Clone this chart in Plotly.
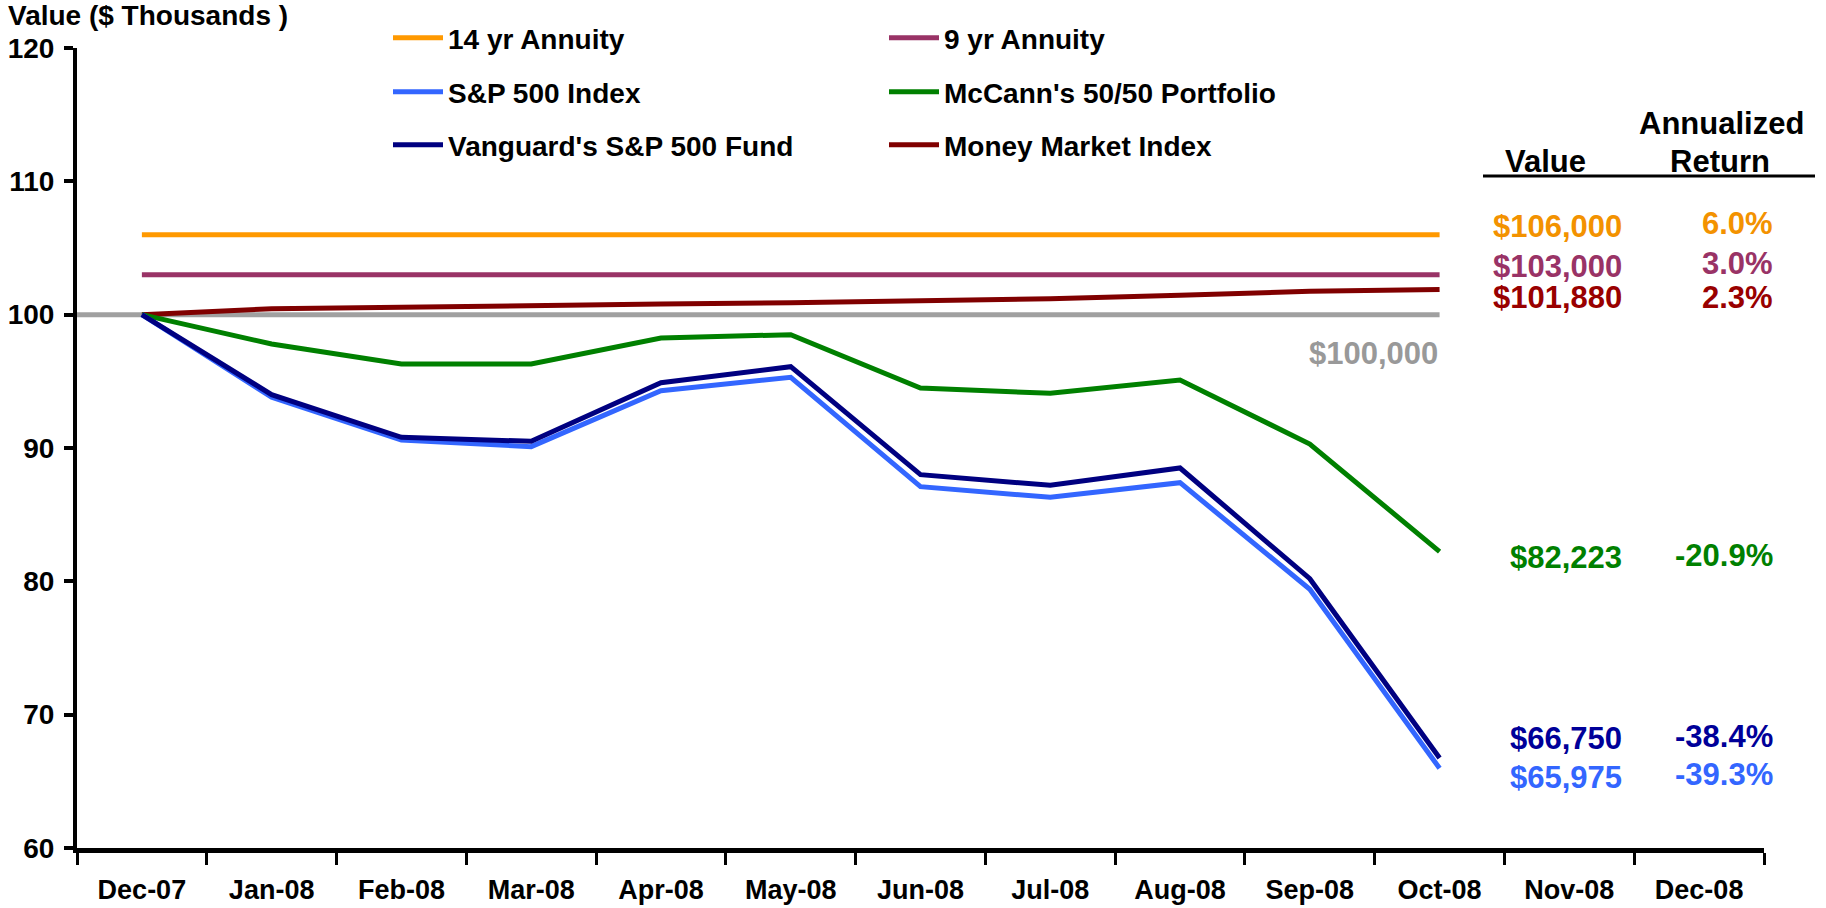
import plotly.graph_objects as go

months = ["Dec-07", "Jan-08", "Feb-08", "Mar-08", "Apr-08", "May-08", "Jun-08",
          "Jul-08", "Aug-08", "Sep-08", "Oct-08", "Nov-08", "Dec-08"]
data_months = months[:11]

annuity14 = [106] * 11
annuity9 = [103] * 11
sp500 = [100, 93.8, 90.6, 90.1, 94.3, 95.3, 87.1, 86.3, 87.4, 79.4, 65.975]
mccann = [100, 97.8, 96.3, 96.3, 98.25, 98.5, 94.5, 94.1, 95.1, 90.3, 82.223]
vanguard = [100, 94.0, 90.8, 90.5, 94.9, 96.1, 88.0, 87.2, 88.5, 80.2, 66.75]
money_market = [100, 100.45, 100.55, 100.7, 100.8, 100.9, 101.05, 101.2, 101.45, 101.75, 101.88]
baseline = 100

series_names = ["14 yr Annuity", "9 yr Annuity", "S&P 500 Index",
                "McCann's 50/50 Portfolio", "Vanguard's S&P 500 Fund", "Money Market Index"]
series_values = [annuity14, annuity9, sp500, mccann, vanguard, money_market]
series_colors = ["#FF9900", "#993366", "#3366FF", "#008000", "#000080", "#800000"]

final_values = ["$106,000", "$103,000", "$65,975", "$82,223", "$66,750", "$101,880"]
annual_returns = ["6.0%", "3.0%", "-39.3%", "-20.9%", "-38.4%", "2.3%"]
text_colors = ["#F39200", "#993366", "#3366FF", "#008000", "#000099", "#990000"]
baseline_label = "$100,000"

FONT = "Liberation Sans, Arial, sans-serif"
W, H = 1826, 908
L, R, T, B = 77, 62, 48, 60
PW, PH = W - L - R, H - T - B


def px_x(x):
    return (x - L) / PW


def px_y(y):
    return (H - B - y) / PH


fig = go.Figure()

draw_order = [0, 1, 5, 3, 2, 4]
legend_ids = ["legend", "legend2", "legend3", "legend4", "legend5", "legend6"]
for i in draw_order:
    fig.add_trace(go.Scatter(
        x=data_months, y=series_values[i], mode="lines", name=series_names[i],
        line=dict(color=series_colors[i], width=5),
        legend=legend_ids[i], showlegend=True,
    ))

fig.add_shape(type="line", xref="x", yref="y", x0=-0.5, x1=10, y0=baseline, y1=baseline,
              line=dict(color="#A0A0A0", width=5), layer="below")

leg_cols = [388, 884]
leg_rows = [38, 92, 145]
leg_pos = [(0, 0), (1, 0), (0, 1), (1, 1), (0, 2), (1, 2)]
leg_layout = {}
for i, lid in enumerate(legend_ids):
    c, r = leg_pos[i]
    leg_layout[lid] = dict(
        x=px_x(leg_cols[c]), y=px_y(leg_rows[r]), xanchor="left", yanchor="middle",
        bgcolor="rgba(0,0,0,0)", borderwidth=0,
        font=dict(family=FONT, size=28, color="black", weight="bold"),
        itemwidth=50,
    )

BIG = 31
annotations = []
annotations.append(dict(text="<b>Value ($ Thousands )</b>", xref="paper", yref="paper",
                        x=px_x(6), y=px_y(16), xanchor="left", yanchor="middle",
                        showarrow=False, font=dict(family=FONT, size=28, color="black")))
annotations.append(dict(text="<b>Annualized</b>", xref="paper", yref="paper",
                        x=px_x(1721), y=px_y(124), xanchor="center", yanchor="middle",
                        showarrow=False, font=dict(family=FONT, size=BIG, color="black")))
annotations.append(dict(text="<b>Return</b>", xref="paper", yref="paper",
                        x=px_x(1720), y=px_y(161), xanchor="center", yanchor="middle",
                        showarrow=False, font=dict(family=FONT, size=BIG, color="black")))
annotations.append(dict(text="<b>Value</b>", xref="paper", yref="paper",
                        x=px_x(1545), y=px_y(161), xanchor="center", yanchor="middle",
                        showarrow=False, font=dict(family=FONT, size=BIG, color="black")))

val_y = [226, 266, 777, 557, 738, 297]
pct_y = [223, 263, 774, 555, 736, 297]
for i in range(6):
    annotations.append(dict(text="<b>%s</b>" % final_values[i], xref="paper", yref="paper",
                            x=px_x(1624), y=px_y(val_y[i]), xanchor="right", yanchor="middle",
                            showarrow=False, font=dict(family=FONT, size=BIG, color=text_colors[i])))
    annotations.append(dict(text="<b>%s</b>" % annual_returns[i], xref="paper", yref="paper",
                            x=px_x(1775), y=px_y(pct_y[i]), xanchor="right", yanchor="middle",
                            showarrow=False, font=dict(family=FONT, size=BIG, color=text_colors[i])))
annotations.append(dict(text="<b>%s</b>" % baseline_label, xref="paper", yref="paper",
                        x=px_x(1440), y=px_y(353), xanchor="right", yanchor="middle",
                        showarrow=False, font=dict(family=FONT, size=BIG, color="#999999")))

fig.update_layout(
    width=W, height=H,
    margin=dict(l=L, r=R, t=T, b=B, autoexpand=False),
    paper_bgcolor="white", plot_bgcolor="white",
    font=dict(family=FONT, color="black"),
    annotations=annotations,
    **leg_layout,
)
fig.add_shape(type="line", xref="paper", yref="paper", x0=px_x(1483), x1=px_x(1815),
              y0=px_y(176), y1=px_y(176), line=dict(color="black", width=3))

fig.update_xaxes(
    type="category", categoryorder="array", categoryarray=months, range=[-0.5, 12.5],
    tickson="boundaries", ticks="outside", ticklen=12, tickwidth=3, tickcolor="black",
    showline=True, linecolor="black", linewidth=5, showgrid=False, zeroline=False,
    tickfont=dict(family=FONT, size=27, color="black", weight="bold"), ticklabelstandoff=14,
)
fig.update_yaxes(
    range=[60, 120], dtick=10, tick0=60, ticks="outside", ticklen=9, tickwidth=4,
    tickcolor="black", showline=True, linecolor="black", linewidth=4, showgrid=False,
    zeroline=False, tickfont=dict(family=FONT, size=28, color="black", weight="bold"),
    ticklabelstandoff=4,
)

fig.write_html("out.html", config={"displayModeBar": False},
               post_script="document.body.style.margin='0';document.body.style.overflow='hidden';")
